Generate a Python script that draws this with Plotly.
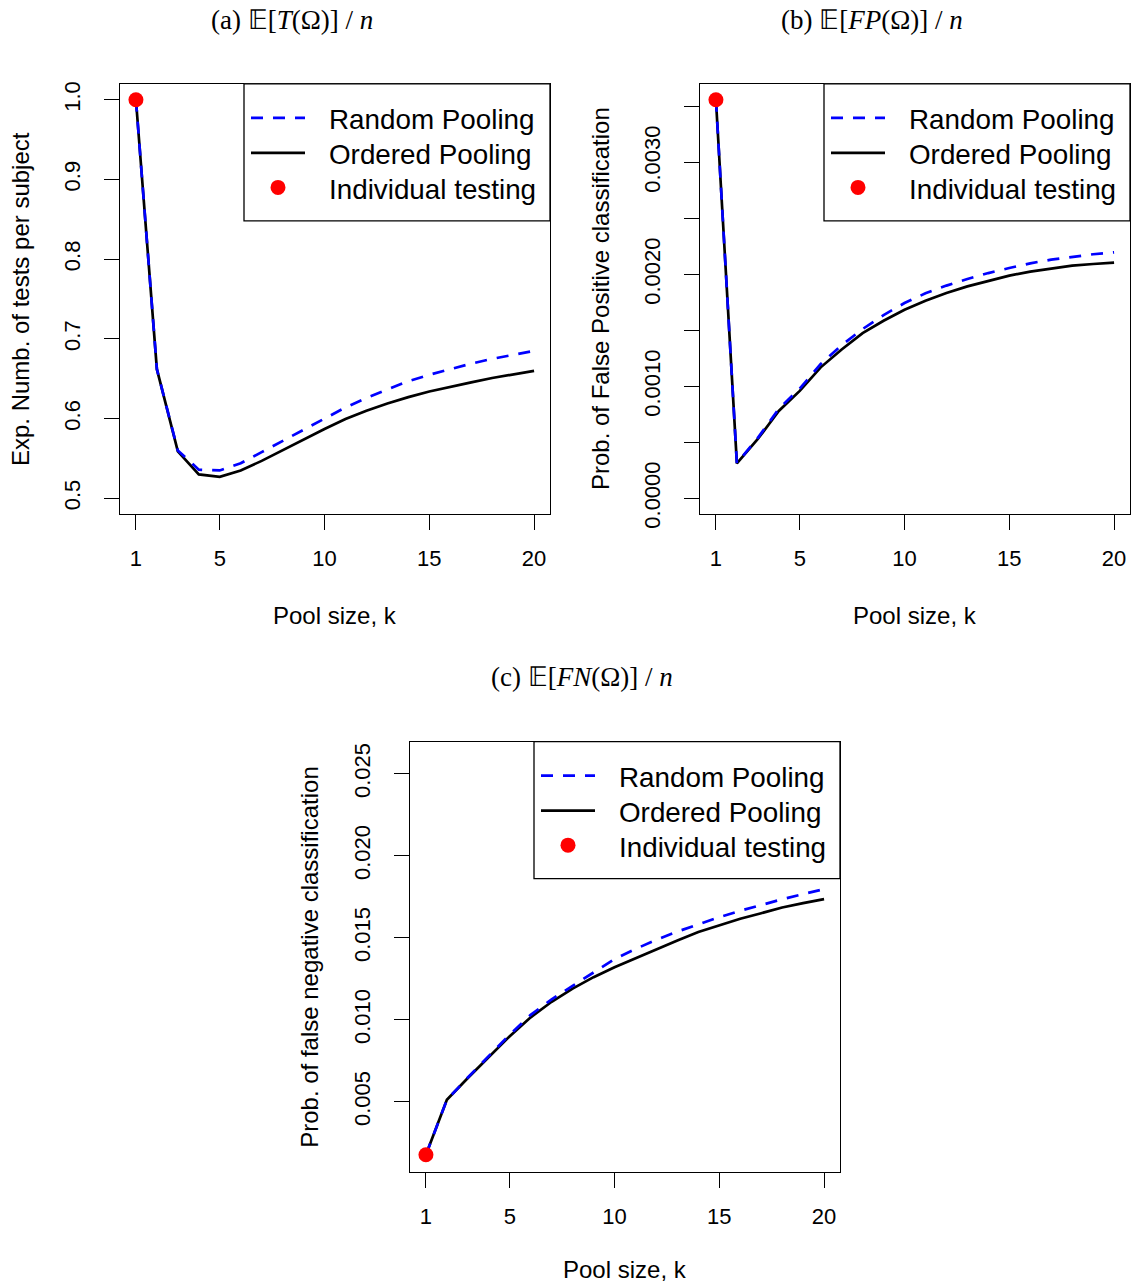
import plotly.graph_objects as go

# Pool sizes
k = list(range(1, 21))

# (a) expected number of tests per subject
tests_random = [1.0, 0.662, 0.560, 0.536, 0.535, 0.544, 0.558, 0.572, 0.586, 0.600,
                0.614, 0.626, 0.637, 0.647, 0.655, 0.662, 0.669, 0.675, 0.680, 0.685]
tests_ordered = [1.0, 0.662, 0.559, 0.530, 0.527, 0.535, 0.547, 0.5605, 0.574, 0.587,
                 0.5995, 0.610, 0.619, 0.627, 0.634, 0.640, 0.6455, 0.651, 0.6555, 0.660]
tests_individual = 1.0

# (b) probability of false positive classification
fp_random = [0.00356, 0.000313, 0.00054, 0.00080, 0.00098, 0.00120, 0.001368, 0.001512,
             0.001637, 0.001744, 0.001831, 0.0019, 0.001959, 0.002012, 0.002057,
             0.002099, 0.002132, 0.002158, 0.00218, 0.002197]
fp_ordered = [0.00356, 0.000313, 0.00053, 0.00078, 0.00096, 0.00117, 0.00133, 0.001476,
              0.001586, 0.001684, 0.001765, 0.001834, 0.001893, 0.001944, 0.001989,
              0.002025, 0.002054, 0.002078, 0.002093, 0.002105]
fp_individual = 0.00356

# (c) probability of false negative classification
fn_random = [0.00177, 0.00512, 0.00648, 0.00780, 0.00910, 0.01030, 0.01125, 0.01207,
             0.01290, 0.01370, 0.01432, 0.01488, 0.01538, 0.01584, 0.01626, 0.01665,
             0.01701, 0.01735, 0.01767, 0.01797]
fn_ordered = [0.00177, 0.00512, 0.00645, 0.00775, 0.00900, 0.01015, 0.01110, 0.01190,
              0.01260, 0.01320, 0.01376, 0.01431, 0.01484, 0.01535, 0.01575, 0.01616,
              0.01650, 0.01685, 0.01712, 0.01736]
fn_individual = 0.00177

x_ticks = [1, 5, 10, 15, 20]
fp_ticks = [0.0, 0.0005, 0.001, 0.0015, 0.002, 0.0025, 0.003, 0.0035]
fp_labels = ["0.0000", "", "0.0010", "", "0.0020", "", "0.0030", ""]
fn_ticks = [0.005, 0.010, 0.015, 0.020, 0.025]
fn_labels = ["0.005", "0.010", "0.015", "0.020", "0.025"]
tests_ticks = [0.5, 0.6, 0.7, 0.8, 0.9, 1.0]
tests_labels = ["0.5", "0.6", "0.7", "0.8", "0.9", "1.0"]

legend_names = ["Random Pooling", "Ordered Pooling", "Individual testing"]

W, H = 1132, 1285
Y_OFF, Y_SCALE = 3.3, 0.9864   # vertical page mapping
SANS = "Liberation Sans"
SERIF = "Liberation Serif"
BLUE, RED = "#0000ff", "#ff0000"
DASH = "12px,10px"


def px_x(v):
    return v / W


def px_y(v):
    return 1 - (v - Y_OFF) / Y_SCALE / H


panels = {
    "a": dict(x0=120, x1=550, y0=85, y1=515),
    "b": dict(x0=700, x1=1130, y0=85, y1=515),
    "c": dict(x0=410, x1=840, y0=742, y1=1172),
}

fig = go.Figure()

series = [
    ("x", "y", tests_random, tests_ordered, tests_individual),
    ("x2", "y2", fp_random, fp_ordered, fp_individual),
    ("x3", "y3", fn_random, fn_ordered, fn_individual),
]

for xa, ya, rnd, ordd, ind in series:
    fig.add_trace(go.Scatter(
        x=k, y=ordd, xaxis=xa, yaxis=ya, mode="lines", name="Ordered Pooling",
        showlegend=False, line=dict(color="black", width=2.7)))
    fig.add_trace(go.Scatter(
        x=k, y=rnd, xaxis=xa, yaxis=ya, mode="lines", name="Random Pooling",
        showlegend=False, line=dict(color=BLUE, width=2.7, dash=DASH)))
    fig.add_trace(go.Scatter(
        x=[k[0]], y=[ind], xaxis=xa, yaxis=ya, mode="markers", name="Individual testing",
        showlegend=False, marker=dict(color=RED, size=15)))

axis_common = dict(
    showline=True, mirror=True, linecolor="black", linewidth=1.3,
    ticks="outside", ticklen=15, tickwidth=1.3, tickcolor="black",
    showgrid=False, zeroline=False,
    tickfont=dict(family=SANS, size=22, color="black"),
)

xr = [0.24, 20.76]
y_ranges = {"a": [0.48, 1.02], "b": [-0.0001424, 0.0037024], "c": [0.000713, 0.02697]}
y_ticks = {"a": (tests_ticks, tests_labels), "b": (fp_ticks, fp_labels), "c": (fn_ticks, fn_labels)}
names = {"a": ("xaxis", "yaxis", "y", "x"), "b": ("xaxis2", "yaxis2", "y2", "x2"),
         "c": ("xaxis3", "yaxis3", "y3", "x3")}

layout_axes = {}
for key, p in panels.items():
    xname, yname, yanchor, xanchor = names[key]
    layout_axes[xname] = dict(
        axis_common, domain=[px_x(p["x0"]), px_x(p["x1"])], range=xr,
        tickvals=x_ticks, ticklabelstandoff=9, anchor=yanchor)
    tv, tt = y_ticks[key]
    layout_axes[yname] = dict(
        axis_common, domain=[px_y(p["y1"]), px_y(p["y0"])], range=y_ranges[key],
        tickvals=tv, ticktext=tt, tickangle=-90, ticklabelstandoff=15, anchor=xanchor)

annotations = []
shapes = []
titles = {
    "a": "(a) 𝔼[<i>T</i>(Ω)] / <i>n</i>",
    "b": "(b) 𝔼[<i>FP</i>(Ω)] / <i>n</i>",
    "c": "(c) 𝔼[<i>FN</i>(Ω)] / <i>n</i>",
}
ytitles = {
    "a": "Exp. Numb. of tests per subject",
    "b": "Prob. of False Positive classification",
    "c": "Prob. of false negative classification",
}


def text(s, x, y, size, family=SANS, xanchor="center", angle=0):
    annotations.append(dict(
        text=s, x=px_x(x), y=px_y(y), xref="paper", yref="paper", showarrow=False,
        xanchor=xanchor, yanchor="middle", textangle=angle, borderpad=0,
        font=dict(family=family, size=size, color="black")))


for key, p in panels.items():
    cx = (p["x0"] + p["x1"]) / 2
    cy = (p["y0"] + p["y1"]) / 2
    text(titles[key], cx - 43, p["y0"] - 64, 27, family=SERIF)
    text("Pool size, k", cx, min(p["y1"] + 101, H - 16), 24)
    text(ytitles[key], p["x0"] - 100, cy, 24, angle=-90)

    # legend box in the top-right corner of each panel
    bl, bt = p["x1"] - 306, p["y0"]
    shapes.append(dict(type="rect", xref="paper", yref="paper",
                       x0=px_x(bl), x1=px_x(p["x1"]), y0=px_y(bt + 137), y1=px_y(bt),
                       line=dict(color="black", width=1.3), fillcolor="white", layer="above"))
    rows = [bt + 34, bt + 69, bt + 103.5]
    shapes.append(dict(type="line", xref="paper", yref="paper",
                       x0=px_x(bl + 7), x1=px_x(bl + 61), y0=px_y(rows[0]), y1=px_y(rows[0]),
                       line=dict(color=BLUE, width=2.7, dash=DASH), layer="above"))
    shapes.append(dict(type="line", xref="paper", yref="paper",
                       x0=px_x(bl + 7), x1=px_x(bl + 61), y0=px_y(rows[1]), y1=px_y(rows[1]),
                       line=dict(color="black", width=2.7), layer="above"))
    shapes.append(dict(type="circle", xref="paper", yref="paper",
                       x0=px_x(bl + 34 - 7.5), x1=px_x(bl + 34 + 7.5),
                       y0=px_y(rows[2] + 7.5), y1=px_y(rows[2] - 7.5),
                       line=dict(color=RED, width=0), fillcolor=RED, layer="above"))
    for name, ry in zip(legend_names, rows):
        text(name, bl + 84, ry + 2, 27.8, xanchor="left")

fig.update_layout(
    width=W, height=H,
    margin=dict(l=0, r=0, t=0, b=0),
    paper_bgcolor="white", plot_bgcolor="white",
    showlegend=False,
    annotations=annotations,
    shapes=shapes,
    **layout_axes,
)

fig.write_html("out.html")
